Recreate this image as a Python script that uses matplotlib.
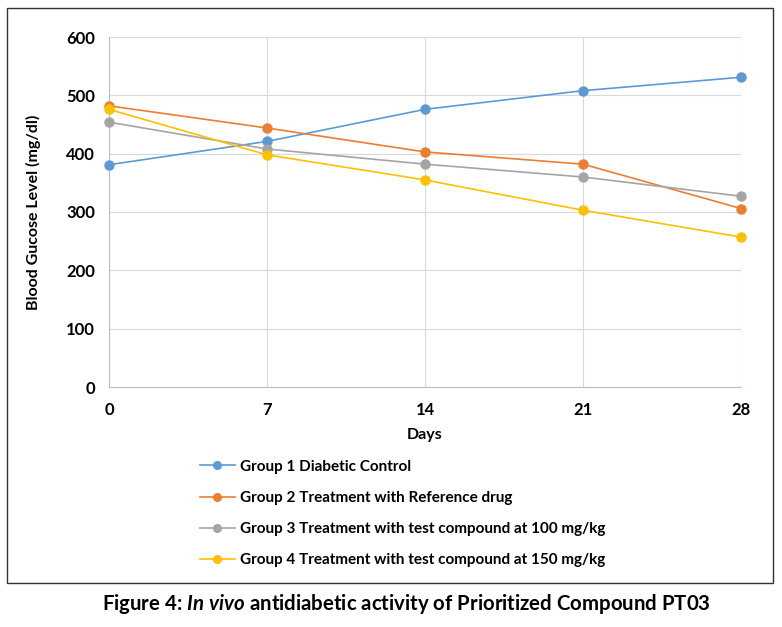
import matplotlib.pyplot as plt
from matplotlib.patches import Rectangle

plt.rcParams["font.family"] = ["Lato", "DejaVu Sans"]
plt.rcParams["mathtext.fontset"] = "custom"
plt.rcParams["mathtext.it"] = "Lato:italic:bold"
plt.rcParams["mathtext.rm"] = "Lato:bold"

days = [0, 7, 14, 21, 28]
group1 = [381, 421, 476, 508, 531]
group2 = [482, 444, 403, 382, 306]
group3 = [454, 408, 382, 360, 327]
group4 = [476, 398, 355, 303, 257]

labels = [
    "Group 1 Diabetic Control",
    "Group 2 Treatment with Reference drug",
    "Group 3 Treatment with test compound at 100 mg/kg",
    "Group 4 Treatment with test compound at 150 mg/kg",
]
colors = ["#5b9bd5", "#ed7d31", "#a5a5a5", "#ffc000"]

fig = plt.figure(figsize=(7.82, 6.27), dpi=100)
ax = fig.add_axes([109 / 782, 1 - 387 / 627, (741 - 109) / 782, (387 - 37) / 627])

handles = []
for vals, c, lab in zip([group1, group2, group3, group4], colors, labels):
    h, = ax.plot(days, vals, color=c, lw=1.2, marker="o", ms=6.5, label=lab, clip_on=False, zorder=3)
    handles.append(h)

ax.set_xlim(0, 28)
ax.set_ylim(0, 600)
ax.set_xticks(days)
ax.set_yticks(range(0, 601, 100))
ax.grid(True, color="#d9d9d9", lw=0.8)
ax.set_axisbelow(True)
for s in ["top", "right"]:
    ax.spines[s].set_visible(False)
for s in ["left", "bottom"]:
    ax.spines[s].set_color("#b4bfcc")
ax.tick_params(axis="y", length=0, labelsize=12, pad=10)
ax.tick_params(axis="x", length=0, labelsize=12, pad=11)
for t in ax.get_xticklabels() + ax.get_yticklabels():
    t.set_fontweight("bold")
ax.set_xlabel("Days", fontsize=11.5, fontweight="bold", labelpad=7)
ax.set_ylabel("Blood Gucose Level (mg/dl)", fontsize=11.5, fontweight="bold", labelpad=18)

fig.legend(handles=handles, loc="upper left", bbox_to_anchor=(186 / 782, 1 - 446 / 627),
           frameon=False, prop={"size": 11, "weight": "bold"}, handlelength=2.3,
           labelspacing=1.12, handletextpad=0.35, markerscale=0.85)

fig.patches.append(Rectangle((7 / 782, 1 - 583 / 627), 766 / 782, 575 / 627,
                             transform=fig.transFigure, fill=False, ec="#333333", lw=1))

fig.text(406 / 782, 1 - 604 / 627, r"Figure 4: $\mathit{In\ vivo}$ antidiabetic activity of Prioritized Compound PT03",
         ha="center", va="center", fontsize=14.7, fontweight="bold")

fig.savefig("out.png", dpi=100)
